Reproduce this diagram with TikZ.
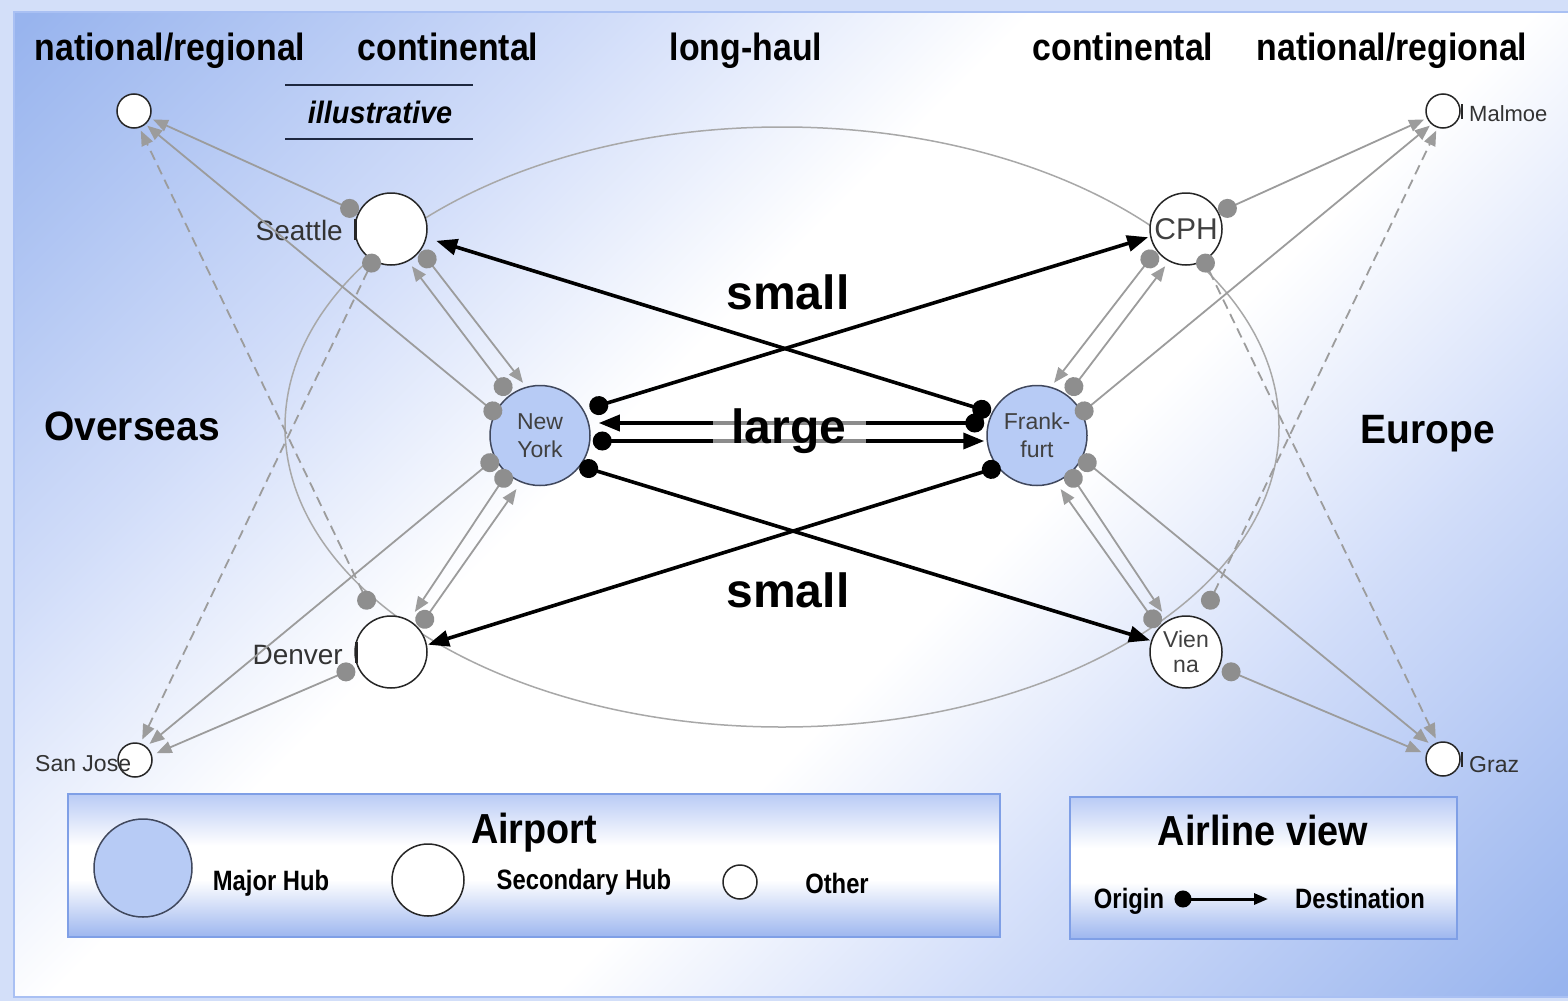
\documentclass[tikz,border=0pt]{standalone}
\usepackage{fontspec}
\setmainfont{Liberation Sans}
\usetikzlibrary{arrows.meta,calc}
\definecolor{bgb}{HTML}{98B4EE}
\definecolor{bgm}{HTML}{D0DCF9}
\definecolor{bgo}{HTML}{D3DFF9}
\definecolor{bgline}{HTML}{A9C0F3}
\definecolor{hub}{HTML}{B7CBF5}
\definecolor{lg}{HTML}{9C9C9C}
\definecolor{lgd}{HTML}{8E8E8E}
\definecolor{ellc}{HTML}{A8A8A8}
\definecolor{navy}{HTML}{1E2840}
\definecolor{lbord}{HTML}{7F9FE6}
\definecolor{legt}{HTML}{B9CBF5}
\definecolor{legb}{HTML}{9DB6EF}
\pgfdeclareverticalshading{bgshade}{100bp}{color(0bp)=(bgb); color(15bp)=(bgb); color(31bp)=(bgm); color(43bp)=(white); color(57bp)=(white); color(69bp)=(bgm); color(85bp)=(bgb); color(100bp)=(bgb)}
\pgfdeclareverticalshading{legshade}{100bp}{color(0bp)=(legb); color(25bp)=(legb); color(45bp)=(white); color(57bp)=(white); color(75bp)=(legt); color(100bp)=(legt)}
\newcommand{\hsq}[2]{\scalebox{#1}[1]{#2}}
\begin{document}
\begin{tikzpicture}[x=1pt,y=-1pt,
  hdrtxt/.style={font=\fontsize{38}{40}\selectfont\bfseries, anchor=base, inner sep=0pt},
  regtxt/.style={font=\fontsize{41}{43}\selectfont\bfseries, anchor=base, inner sep=0pt},
  bigtxt/.style={font=\fontsize{48}{50}\selectfont\bfseries},
  lbltxt/.style={font=\fontsize{28}{30}\selectfont, text=black!80, inner sep=0pt},
  slbltxt/.style={font=\fontsize{23}{25}\selectfont, text=black!80, inner sep=0pt},
  hubnode/.style={circle, draw=navy!85, line width=1.5pt, fill=hub, minimum size=100pt, inner sep=0pt, align=center, font=\fontsize{23}{28}\selectfont, text=black!75},
  secnode/.style={circle, draw=black!85, line width=1.5pt, fill=white, minimum size=72pt, inner sep=0pt, align=center, text=black!75},
  othnode/.style={circle, draw=black!85, line width=1.5pt, fill=white, minimum size=34pt, inner sep=0pt},
  gline/.style={draw=lg, line width=1.8pt, {Circle[length=19pt,color=lgd]}-{Triangle[length=15pt,width=12pt]}},
  gdash/.style={gline, dash pattern=on 10pt off 6pt},
  bline/.style={draw=black, line width=3.6pt, {Circle[length=19pt]}-{Triangle[length=21pt,width=16pt]}},
  legtitle/.style={font=\fontsize{42}{44}\selectfont\bfseries, anchor=base, inner sep=0pt},
  legtxt/.style={font=\fontsize{28}{30}\selectfont\bfseries, anchor=base, inner sep=0pt},
  legbox/.style={shading=legshade, draw=lbord, line width=2pt},
]
\useasboundingbox (0,0) rectangle (1568,1001);
% background
\fill[bgo] (0,0) rectangle (1568,1001);
\shadedraw[shading=bgshade, shading angle=45, draw=bgline, line width=2pt] (14,12) rectangle (1569,997);

% long-haul ellipse
\draw[ellc, line width=1.5pt] (782,427) ellipse [x radius=497pt, y radius=300pt];

% headers
\node[hdrtxt] (h1) at (170,60) {\hsq{0.89}{national/regional}};
\node[hdrtxt] (h2) at (448,60) {\hsq{0.89}{continental}};
\node[hdrtxt] (h3) at (746,60) {\hsq{0.89}{long-haul}};
\node[hdrtxt] (h4) at (1123,60) {\hsq{0.89}{continental}};
\node[hdrtxt] (h5) at (1392,60) {\hsq{0.89}{national/regional}};
\node[font=\fontsize{31}{33}\selectfont\bfseries\itshape, anchor=base, inner sep=0pt] (ill) at (380,123) {\hsq{0.93}{illustrative}};
\draw[navy, line width=2.5pt] (285,85) -- (473,85);
\draw[navy, line width=2.5pt] (285,139) -- (473,139);
\node[regtxt] (ov) at (132,440) {\hsq{0.95}{Overseas}};
\node[regtxt] (eu) at (1428,443) {\hsq{0.95}{Europe}};

% airports
\node[othnode] (nrl) at (134,111) {};
\node[secnode] (sea) at (391,229) {};
\node[hubnode] (ny) at (540,435.5) {New\\York};
\node[secnode] (den) at (391,652) {};
\node[othnode] (sj) at (135,760) {};
\node[secnode, font=\fontsize{30}{32}\selectfont] (cph) at (1186,229) {CPH};
\node[hubnode] (fra) at (1037,435.5) {Frank-\\furt};
\node[secnode, font=\fontsize{23}{25}\selectfont] (vie) at (1186,652) {Vien\\na};
\node[othnode] (mal) at (1443,111) {};
\node[othnode] (grz) at (1443,759) {};

% small marks beside circles
\draw[black!85, line width=3pt] (355,219) -- (355,240);
\draw[black!85, line width=3pt] (356,642) -- (356,663);
\draw[black!85, line width=2.5pt] (1462,104) -- (1462,119);
\draw[black!85, line width=2.5pt] (1462,752) -- (1462,767);

% airport names
\node[lbltxt, anchor=base east] (tsea) at (343,240) {Seattle};
\node[lbltxt, anchor=base east] (tden) at (343,664) {Denver};
\node[slbltxt, anchor=base west] (tsj) at (35,771) {San Jose};
\node[font=\fontsize{22}{24}\selectfont, text=black!80, inner sep=0pt, anchor=base west] (tmal) at (1469,121) {Malmoe};
\node[slbltxt, anchor=base west] (tgrz) at (1469,772) {Graz};

% gray feeder connections, left
\draw[gline, shorten <=0pt, shorten >=3pt] (sea.153) -- (nrl.-24);
\draw[gline, shorten <=-7pt, shorten >=2pt] (ny.153) -- (nrl.-49);
\draw[gdash, shorten <=11pt, shorten >=3pt] (den.115) -- (nrl.-72);
\draw[gdash, shorten <=-7pt, shorten >=4pt] (sea.-120) -- (sj.72);
\draw[gline, shorten <=-3pt, shorten >=4pt] (ny.-153) -- (sj.50);
\draw[gline, shorten <=3pt, shorten >=5pt] (den.-156) -- (sj.16);
\draw[gline, shorten <=1pt, shorten >=5pt] (sea.-36) -- (ny.106);
\draw[gline, shorten <=1pt, shorten >=6pt] (ny.127) -- (sea.-62);
\draw[gline, shorten <=-4pt, shorten >=10pt] (ny.-131) -- (den.60);
\draw[gline, shorten <=1pt, shorten >=8pt] (den.41.5) -- (ny.-112);
% gray feeder connections, right
\draw[gline, shorten <=0pt, shorten >=3pt] (cph.27) -- (mal.-156);
\draw[gline, shorten <=-7pt, shorten >=2pt] (fra.27) -- (mal.-131);
\draw[gdash, shorten <=11pt, shorten >=3pt] (vie.65) -- (mal.-108);
\draw[gdash, shorten <=-7pt, shorten >=4pt] (cph.-60) -- (grz.108);
\draw[gline, shorten <=-3pt, shorten >=4pt] (fra.-27) -- (grz.130);
\draw[gline, shorten <=3pt, shorten >=5pt] (vie.-24) -- (grz.164);
\draw[gline, shorten <=1pt, shorten >=5pt] (cph.-144) -- (fra.74);
\draw[gline, shorten <=1pt, shorten >=6pt] (fra.53) -- (cph.-118);
\draw[gline, shorten <=-4pt, shorten >=10pt] (fra.-49) -- (vie.120);
\draw[gline, shorten <=1pt, shorten >=8pt] (vie.138.5) -- (fra.-68);

% long-haul black connections
\draw[bline, shorten <=1pt, shorten >=10pt] (fra.153) -- (sea.-14);
\draw[bline, shorten <=6pt, shorten >=2pt] (ny.30) -- (cph.-168);
\draw[bline, shorten <=-1pt, shorten >=1pt] (ny.-37) -- (vie.162);
\draw[bline, shorten <=-3pt, shorten >=1pt] (fra.-141) -- (den.11);
\draw[bline, shorten <=2pt, shorten >=8pt] ([yshift=12.5pt]fra.west) -- ([yshift=12.5pt]ny.east);
\draw[bline, shorten <=2pt, shorten >=2pt] ([yshift=-5.5pt]ny.east) -- ([yshift=-5.5pt]fra.west);

% volume labels
\node[bigtxt, anchor=base, inner sep=0pt] (s1) at (788,309) {small};
\node[bigtxt, anchor=base, inner sep=0pt] (s2) at (788,607) {small};
\node[bigtxt, fill=white, fill opacity=0.55, text opacity=1, inner sep=0pt, minimum width=153pt, minimum height=44pt] (lrg) at (789,431) {large};

% legend: airport
\shadedraw[legbox] (68,794) rectangle (1000,937);
\node[legtitle] (lt1) at (534,843) {\hsq{0.9}{Airport}};
\node[circle, draw=navy!85, line width=1.5pt, fill=hub, minimum size=98pt, inner sep=0pt] (lmaj) at (143,868) {};
\node[legtxt] (lmajt) at (271,890) {\hsq{0.85}{Major Hub}};
\node[secnode] (lsec) at (428,880) {};
\node[legtxt] (lsect) at (584,889) {\hsq{0.85}{Secondary Hub}};
\node[othnode] (loth) at (740,882) {};
\node[legtxt] (lotht) at (837,893) {\hsq{0.85}{Other}};

% legend: airline view
\shadedraw[legbox] (1070,797) rectangle (1457,939);
\node[legtitle] (lt2) at (1263,845) {\hsq{0.9}{Airline view}};
\node[legtxt] (lori) at (1129,908) {\hsq{0.85}{Origin}};
\node[legtxt] (ldes) at (1360,908) {\hsq{0.85}{Destination}};
\coordinate (lo) at (1183,899);
\coordinate (ld) at (1268,899);
\draw[draw=black, line width=3pt, {Circle[length=17pt]}-{Triangle[length=14pt,width=11pt]}, shorten <=-8.5pt] (lo) -- (ld);
\end{tikzpicture}
\end{document}
